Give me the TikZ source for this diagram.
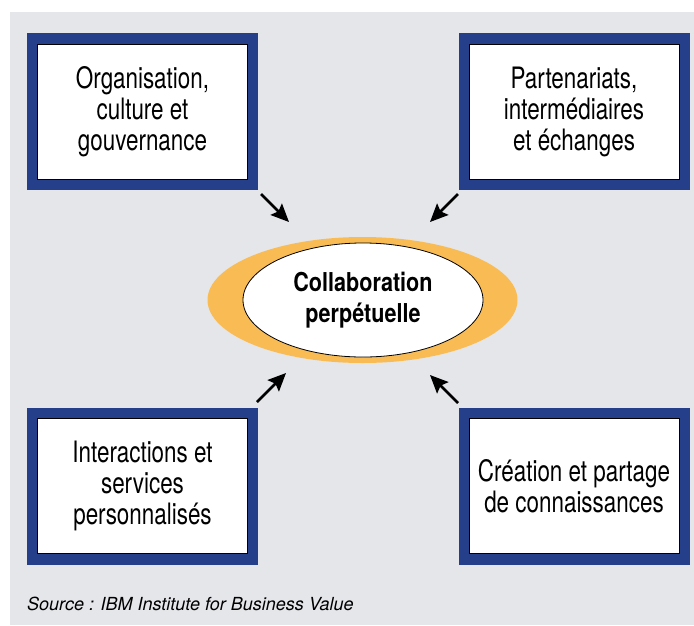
\documentclass[tikz,border=0pt]{standalone}
\usepackage{fontspec}
\usetikzlibrary{shapes.geometric,arrows.meta}
\newfontfamily\boxfont{TeX Gyre Heros}[FakeStretch=0.76]
\newfontfamily\ctrfont{TeX Gyre Heros}[FakeStretch=0.83]
\newfontfamily\srcfont{TeX Gyre Heros}
\definecolor{bgray}{HTML}{E5E6EA}
\definecolor{ibmblue}{HTML}{263F8B}
\definecolor{ibmorange}{HTML}{F9BC55}
\tikzset{
  frame/.style={fill=ibmblue, minimum width=231pt, minimum height=157pt, inner sep=0pt},
  textbox/.style={fill=white, draw=black, line width=0.8pt, minimum width=210pt, minimum height=135pt,
    inner sep=0pt, align=center, font=\boxfont\fontsize{29.5}{31}\selectfont},
  halo/.style={ellipse, fill=ibmorange, minimum width=310pt, minimum height=126pt, inner sep=0pt},
  core/.style={ellipse, fill=white, draw=black, line width=0.8pt, minimum width=240pt, minimum height=114pt,
    inner sep=0pt, align=center, font=\ctrfont\bfseries\fontsize{26}{30.5}\selectfont},
  feed/.style={line width=2.5pt, -{Stealth[length=18pt,width=16pt,inset=3pt]}}
}
\begin{document}
\begin{tikzpicture}[x=1pt,y=-1pt]
\useasboundingbox (0,0) rectangle (694,625);
\fill[white] (0,0) rectangle (694,625);
\fill[bgray] (10,12) rectangle (694,625);

\node[frame] (tlf) at (142.5,111.5) {};
\node[textbox] (tl) at (tlf) {Organisation,\\culture et\\gouvernance};
\node[frame] (trf) at (574,111.5) {};
\node[textbox] (tr) at (trf) {Partenariats,\\intermédiaires\\et échanges};
\node[frame] (blf) at (142.5,486) {};
\node[textbox] (bl) at (blf) {Interactions et\\services\\personnalisés};
\node[frame] (brf) at (574,486) {};
\node[textbox] (br) at (brf) {Création et partage\\de connaissances};

\node[halo] (h) at (362.5,300) {};
\node[core] (c) at (363,300) {Collaboration\\perpétuelle};

\coordinate (a1s) at (261,194); \coordinate (a1e) at (289,222);
\coordinate (a2s) at (458,194); \coordinate (a2e) at (430,222);
\coordinate (a3s) at (257,402); \coordinate (a3e) at (286,373);
\coordinate (a4s) at (458,403); \coordinate (a4e) at (430,375);
\draw[feed] (a1s) -- (a1e);
\draw[feed] (a2s) -- (a2e);
\draw[feed] (a3s) -- (a3e);
\draw[feed] (a4s) -- (a4e);

\node[anchor=base west, inner sep=0pt, font=\srcfont\itshape\fontsize{18}{20}\selectfont] (src) at (27,610)
  {Source : IBM Institute for Business Value};
\end{tikzpicture}
\end{document}
